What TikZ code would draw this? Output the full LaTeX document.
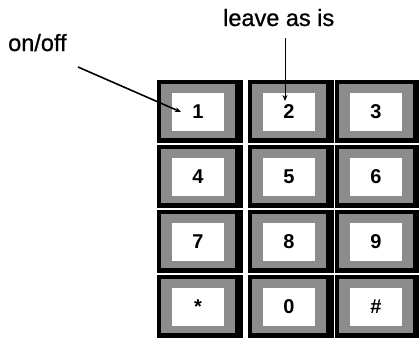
\documentclass[tikz,border=0pt]{standalone}
\usepackage{fontspec}
\setmainfont{Liberation Sans}
\newfontfamily\calloutfont{Liberation Sans}[FakeBold=0.8]
\usetikzlibrary{arrows.meta}
\begin{document}
\begin{tikzpicture}[x=1pt,y=-1pt,
  keyouter/.style={fill=black, draw=none, minimum width=86pt, minimum height=63pt, anchor=north west, inner sep=0pt, outer sep=0pt},
  keyband/.style={fill=black!45, draw=none, minimum width=74pt, minimum height=54pt, anchor=north west, inner sep=0pt, outer sep=0pt},
  keyface/.style={fill=white, draw=none, minimum width=52pt, minimum height=38pt, anchor=north west, inner sep=0pt, outer sep=0pt,
    font=\bfseries\fontsize{20}{20}\selectfont},
  callout/.style={font=\calloutfont\fontsize{23.5}{24}\selectfont, inner sep=0pt, anchor=base west},
  pointer/.style={draw=black, -{Stealth[length=6pt,width=5pt]}}
]
\useasboundingbox (0,0) rectangle (419,343);
\fill[white] (0,0) rectangle (419,343);

\newcommand\drawkey[4]{%
  \node[keyouter] (#1o) at (#2,#3) {};
  \node[keyband] (#1g) at (#2+4,#3+4) {};
  \node[keyface] (#1) at (#2+15,#3+13) {#4};
}

\drawkey{k1}{157}{80}{1}
\drawkey{k2}{248}{80}{2}
\drawkey{k3}{335}{80}{3}
\drawkey{k4}{157}{145}{4}
\drawkey{k5}{248}{145}{5}
\drawkey{k6}{335}{145}{6}
\drawkey{k7}{157}{210}{7}
\drawkey{k8}{248}{210}{8}
\drawkey{k9}{335}{210}{9}
\drawkey{kstar}{157}{275}{*}
\drawkey{kzero}{248}{275}{0}
\drawkey{khash}{335}{275}{\#}

\node[callout] (onoff) at (8,51) {on/off};
\node[callout] (leave) at (223,26) {leave as is};

\coordinate (onoffstart) at (78,67);
\coordinate (onofftip) at (181,112);
\coordinate (leavestart) at (285,38);
\coordinate (leavetip) at (285,101);

\draw[pointer, line width=1.6pt] (onoffstart) -- (onofftip);
\draw[pointer, line width=1pt] (leavestart) -- (leavetip);
\end{tikzpicture}
\end{document}
